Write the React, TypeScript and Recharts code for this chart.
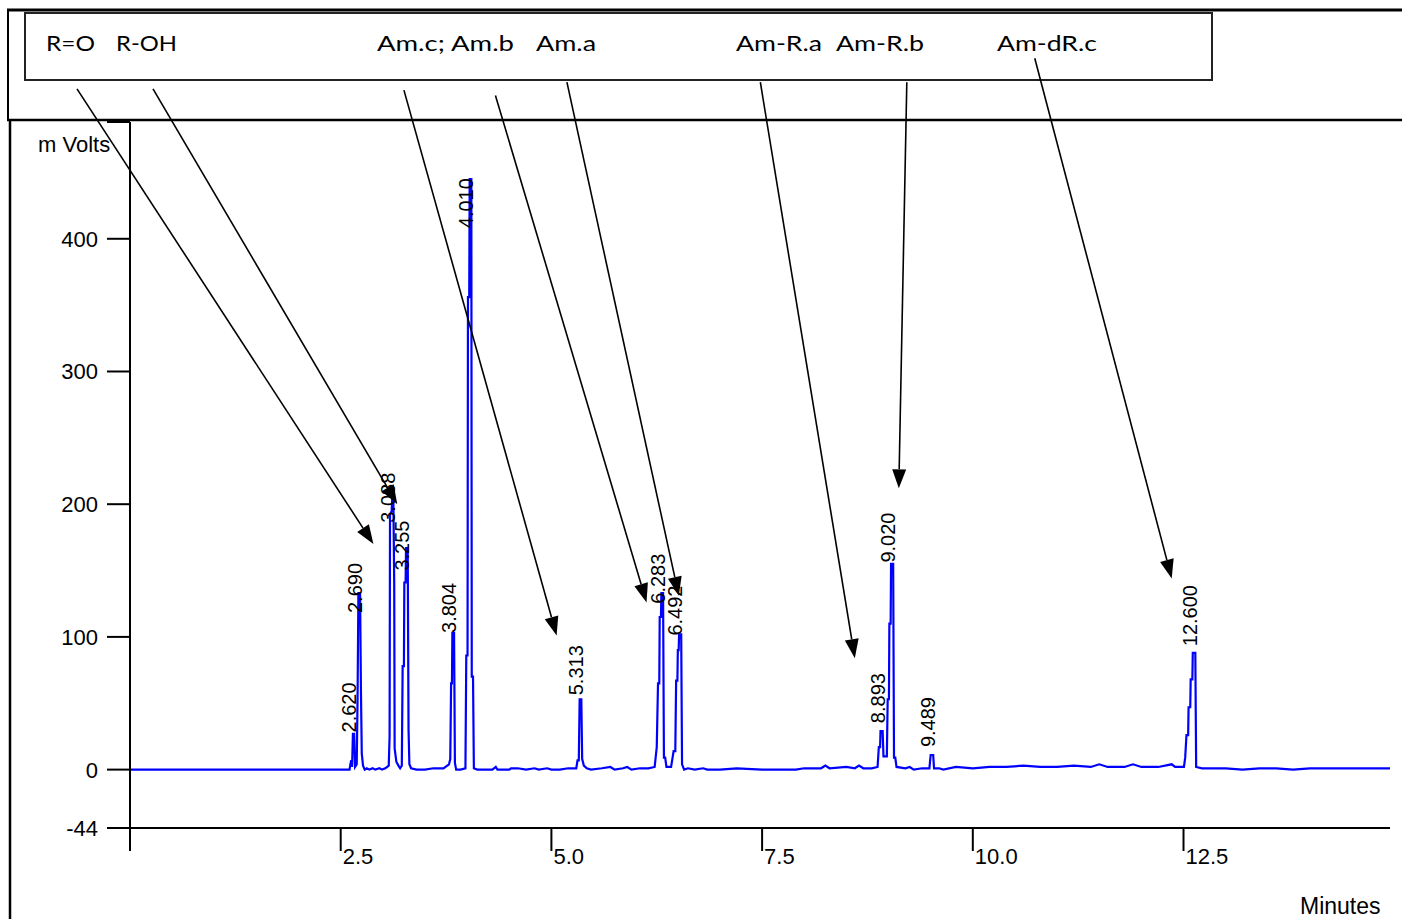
import React from 'react';
import { ComposedChart, Line, Scatter, XAxis, YAxis, ReferenceLine } from 'recharts';

// ---- chromatogram trace: [minutes, mVolts] ----
const trace: [number, number][] = [
  [0, 0], [2.605, 0], [2.615, 4], [2.625, 7], [2.635, 2], [2.645, 27], [2.66, 27], [2.67, 2],
  [2.69, 4], [2.7, 53], [2.71, 133], [2.73, 133], [2.74, 60], [2.75, 12], [2.765, 3],
  [2.785, 0], [2.81, 1], [2.84, 0], [2.88, 1], [2.91, 0], [2.96, 1], [2.99, 0], [3.03, 1],
  [3.07, 3], [3.08, 25], [3.085, 192], [3.105, 195], [3.11, 203], [3.125, 203], [3.135, 140],
  [3.14, 16], [3.16, 6], [3.185, 3], [3.205, 1], [3.225, 3], [3.235, 78], [3.25, 78],
  [3.255, 141], [3.27, 141], [3.275, 167], [3.295, 167], [3.305, 30], [3.315, 4], [3.335, 1],
  [3.4, 0], [3.5, 0], [3.6, 1], [3.72, 1], [3.785, 4], [3.8, 8], [3.81, 65], [3.82, 65],
  [3.825, 103], [3.845, 103], [3.855, 5], [3.87, 0], [3.92, 0], [3.98, 1], [3.99, 86],
  [4.005, 86], [4.01, 356], [4.025, 356], [4.03, 445], [4.05, 445], [4.055, 70], [4.07, 70],
  [4.08, 1], [4.12, 0], [4.3, 0], [4.34, 2], [4.36, 0], [4.5, 0], [4.52, 1], [4.6, 1],
  [4.7, 0], [4.8, 1], [4.85, 0], [4.95, 1], [5.0, 0], [5.1, 0], [5.2, 1], [5.295, 1],
  [5.31, 7], [5.325, 7], [5.335, 53], [5.355, 53], [5.365, 8], [5.385, 3], [5.42, 1],
  [5.47, 0], [5.6, 1], [5.7, 2], [5.75, 0], [5.85, 1], [5.9, 2], [5.95, 0], [6.05, 1],
  [6.15, 1], [6.225, 2], [6.25, 17], [6.265, 65], [6.28, 65], [6.285, 115], [6.3, 115],
  [6.305, 133], [6.325, 133], [6.335, 9], [6.35, 9], [6.365, 2], [6.42, 2], [6.45, 14],
  [6.47, 14], [6.48, 67], [6.495, 67], [6.5, 90], [6.51, 90], [6.515, 102], [6.54, 102],
  [6.55, 4], [6.575, 0], [6.62, 1], [6.7, 0], [6.8, 1], [6.85, 0], [7.0, 0], [7.2, 1],
  [7.5, 0], [7.9, 0], [8.0, 1], [8.2, 1], [8.25, 3], [8.3, 1], [8.5, 2], [8.6, 1], [8.65, 3],
  [8.7, 1], [8.8, 1], [8.87, 2], [8.885, 17], [8.9, 17], [8.905, 29], [8.93, 29], [8.94, 10],
  [8.98, 10], [8.99, 53], [9.005, 53], [9.01, 110], [9.025, 110], [9.03, 155], [9.055, 155],
  [9.065, 9], [9.08, 9], [9.095, 2], [9.2, 1], [9.25, 2], [9.3, 0], [9.4, 1], [9.485, 1],
  [9.5, 11], [9.53, 11], [9.54, 1], [9.6, 1], [9.65, 0], [9.8, 2], [10.0, 1], [10.2, 2],
  [10.4, 2], [10.6, 3], [10.8, 2], [11.0, 2], [11.2, 3], [11.4, 2], [11.5, 4], [11.6, 2],
  [11.8, 2], [11.9, 4], [12.0, 2], [12.2, 2], [12.36, 4], [12.4, 2], [12.505, 2], [12.52, 9],
  [12.535, 26], [12.555, 26], [12.56, 47], [12.58, 47], [12.585, 68], [12.605, 68],
  [12.61, 88], [12.64, 88], [12.65, 2], [12.72, 1], [12.8, 1], [13.0, 1], [13.2, 0],
  [13.4, 1], [13.6, 1], [13.8, 0], [14.0, 1], [14.2, 1], [14.5, 1], [14.75, 1], [14.95, 1],
];

// ---- peak retention-time labels and the mV level where each label starts ----
const peakLabels = ['2.620', '2.690', '3.088', '3.255', '3.804', '4.010', '5.313', '6.283', '6.492', '8.893', '9.020', '9.489', '12.600'];
const peakLabelMv = [28, 118, 186, 150, 103, 408, 56, 125, 101, 35, 156, 17, 93];

// ---- axis ticks ----
const xTicks = [0, 2.5, 5, 7.5, 10, 12.5];
const xTickLabels = ['', '2.5', '5.0', '7.5', '10.0', '12.5'];
const yTicks = [-44, 0, 100, 200, 300, 400, 488];
const yTickLabels = ['-44', '0', '100', '200', '300', '400', ''];

// ---- header compound names ----
const headerNames = ['R=O', 'R-OH', 'Am.c; Am.b', 'Am.a', 'Am-R.a', 'Am-R.b', 'Am-dR.c'];

// ---- annotation arrows (minutes / mVolts) ----
const arrowStartMin = [-0.629, 0.273, 3.25, 4.336, 5.184, 7.479, 9.217, 10.735];
const arrowStartMv = [513, 513, 512, 508, 518, 518, 518, 536];
const arrowEndMin = [2.888, 3.171, 5.062, 6.129, 6.512, 8.6, 9.122, 12.36];
const arrowEndMv = [170, 200, 101, 126, 131, 84, 212, 144];

// ---- layout (pixels) ----
const W = 1402;
const H = 919;
const headerX = [46, 116, 377, 536, 736, 836, 997];
const headerW = [49, 61, 137, 60, 86, 88, 100];

const traceData = trace.map(([t, v]) => ({ t, v }));
const labelData = peakLabels.map((label, i) => ({ t: parseFloat(label), v: peakLabelMv[i], label }));

const AXIS_FONT = '"Liberation Sans", Arial, sans-serif';

const YTick = (props: any) => {
  const { x, y, index } = props;
  const txt = yTickLabels[index];
  if (!txt) return null;
  return (
    <text x={x} y={y + 8} textAnchor="end" fontSize={22} fontFamily={AXIS_FONT} fill="#000">
      {txt}
    </text>
  );
};

const XTick = (props: any) => {
  const { x, y, index } = props;
  const txt = xTickLabels[index];
  if (!txt) return null;
  return (
    <text x={x + 2} y={y + 13} textAnchor="start" fontSize={22} fontFamily={AXIS_FONT} fill="#000">
      {txt}
    </text>
  );
};

const PeakLabel = (props: any) => {
  const { cx, cy, payload } = props;
  const bx = cx + 5;
  return (
    <text
      x={bx}
      y={cy}
      transform={`rotate(-90 ${bx} ${cy})`}
      textAnchor="start"
      fontSize={20}
      fontFamily={AXIS_FONT}
      fill="#000"
    >
      {payload.label}
    </text>
  );
};

const Arrow = (props: any) => {
  const x1 = Number(props.x1);
  const y1 = Number(props.y1);
  const x2 = Number(props.x2);
  const y2 = Number(props.y2);
  const dx = x2 - x1;
  const dy = y2 - y1;
  const len = Math.hypot(dx, dy) || 1;
  const ux = dx / len;
  const uy = dy / len;
  const hl = 19;
  const hw = 7;
  const bx = x2 - ux * hl;
  const by = y2 - uy * hl;
  const px = -uy;
  const py = ux;
  return (
    <g>
      <line x1={x1} y1={y1} x2={bx} y2={by} stroke="#000" strokeWidth={1.6} />
      <polygon
        points={`${x2},${y2} ${bx + px * hw},${by + py * hw} ${bx - px * hw},${by - py * hw}`}
        fill="#000"
      />
    </g>
  );
};

export default function App() {
  return (
    <div style={{ position: 'absolute', left: 0, top: 0, width: W, height: H, background: '#fff', overflow: 'hidden' }}>
      <svg width={W} height={H} style={{ position: 'absolute', left: 0, top: 0 }}>
        <line x1={7} y1={10} x2={W} y2={10} stroke="#000" strokeWidth={3} />
        <line x1={8} y1={9} x2={8} y2={120} stroke="#000" strokeWidth={2} />
        <line x1={7} y1={120} x2={W} y2={120} stroke="#000" strokeWidth={2.5} />
        <line x1={10} y1={120} x2={10} y2={H} stroke="#000" strokeWidth={2.5} />
        <rect x={25} y={13} width={1187} height={67} fill="none" stroke="#222" strokeWidth={2} />
        {headerNames.map((n, i) => (
          <text
            key={n}
            x={headerX[i]}
            y={51}
            fontSize={21}
            fontFamily="Lato, 'Open Sans', sans-serif"
            fill="#000"
            textLength={headerW[i]}
            lengthAdjust="spacingAndGlyphs"
          >
            {n}
          </text>
        ))}
        <text x={38} y={152} fontSize={22} fontFamily={AXIS_FONT} fill="#000">m Volts</text>
        <text x={1300} y={914} fontSize={23} fontFamily={AXIS_FONT} fill="#000">Minutes</text>
      </svg>
      <div style={{ position: 'absolute', left: 0, top: 0 }}>
        <ComposedChart width={W} height={H} margin={{ top: 122, right: 12, bottom: 31, left: 10 }}>
          <XAxis
            type="number"
            dataKey="t"
            domain={[0, 14.95]}
            ticks={xTicks}
            interval={0}
            height={60}
            tickSize={23}
            tickMargin={0}
            axisLine={{ stroke: '#000', strokeWidth: 2 }}
            tickLine={{ stroke: '#000', strokeWidth: 2 }}
            tick={<XTick />}
            allowDataOverflow
          />
          <YAxis
            type="number"
            dataKey="v"
            domain={[-44, 488]}
            ticks={yTicks}
            interval={0}
            width={120}
            tickSize={23}
            tickMargin={9}
            axisLine={{ stroke: '#000', strokeWidth: 2 }}
            tickLine={{ stroke: '#000', strokeWidth: 2 }}
            tick={<YTick />}
            allowDataOverflow
          />
          <Line
            data={traceData}
            dataKey="v"
            type="linear"
            stroke="#0000ff"
            strokeWidth={2.2}
            dot={false}
            activeDot={false}
            isAnimationActive={false}
          />
          <Scatter data={labelData} dataKey="v" shape={<PeakLabel />} isAnimationActive={false} />
          {arrowStartMin.map((s, i) => (
            <ReferenceLine
              key={i}
              segment={[
                { x: s, y: arrowStartMv[i] },
                { x: arrowEndMin[i], y: arrowEndMv[i] },
              ]}
              ifOverflow="visible"
              shape={<Arrow />}
            />
          ))}
        </ComposedChart>
      </div>
    </div>
  );
}
